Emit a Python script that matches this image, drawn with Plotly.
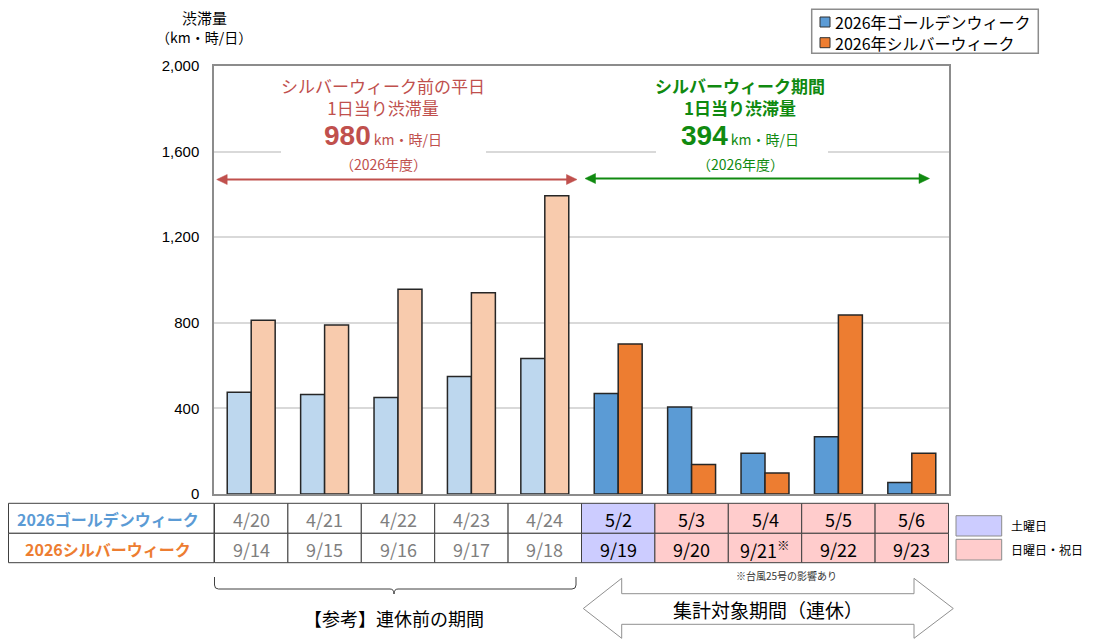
import plotly.graph_objects as go

# data
gw_dates = ["4/20", "4/21", "4/22", "4/23", "4/24", "5/2", "5/3", "5/4", "5/5", "5/6"]
sw_dates = ["9/14", "9/15", "9/16", "9/17", "9/18", "9/19", "9/20", "9/21<sup>※</sup>", "9/22", "9/23"]
day_types = ["平日"] * 5 + ["土曜日"] + ["日曜日・祝日"] * 4
gw_values = [476, 465, 451, 549, 633, 470, 406, 191, 267, 54]
sw_values = [812, 790, 957, 941, 1394, 701, 138, 98, 837, 190]
y_ticks = [0, 400, 800, 1200, 1600, 2000]

CJK = "Noto Sans CJK JP"
NUM = "Liberation Sans"
RED = "#C0504D"
GREEN = "#108A10"

# the page body has an 8px margin, so the figure is drawn 8px in
OFF = 8
W, H = 1095 - OFF, 640 - OFF
# plot area, in page pixels
L, T, PW, PH = 214, 66, 735, 428


def X(px):
    return (px - L) / PW


def Y(py):
    return (T + PH - py) / PH


weekday = [d == "平日" for d in day_types]
gw_colors = ["#BDD7EE" if w else "#5B9BD5" for w in weekday]
sw_colors = ["#F8CBAD" if w else "#ED7D31" for w in weekday]

fig = go.Figure()
fig.add_trace(go.Bar(x=gw_dates, y=gw_values, name="2026年ゴールデンウィーク",
                     marker=dict(color=gw_colors, line=dict(color="#262626", width=1.5)),
                     showlegend=False))
fig.add_trace(go.Bar(x=gw_dates, y=sw_values, name="2026年シルバーウィーク",
                     marker=dict(color=sw_colors, line=dict(color="#262626", width=1.5)),
                     showlegend=False))

shapes = []
ann = []

# white boxes that break the 1,600 gridline behind the callouts
for x0, x1 in [(281, 486), (656, 828)]:
    shapes.append(dict(type="rect", xref="paper", yref="paper", x0=X(x0), x1=X(x1),
                       y0=Y(172), y1=Y(74), fillcolor="white", line=dict(width=0), layer="above"))


def dbl_arrow(xa, xb, y, color):
    hl, hh = 10.5, 5
    shapes.append(dict(type="line", xref="paper", yref="paper", x0=X(xa + hl - 1), x1=X(xb - hl + 1),
                       y0=Y(y), y1=Y(y), line=dict(color=color, width=1.8)))
    for tip, base in [(xa, xa + hl), (xb, xb - hl)]:
        path = (f"M {X(tip)},{Y(y)} L {X(base)},{Y(y - hh)} L {X(base)},{Y(y + hh)} Z")
        shapes.append(dict(type="path", xref="paper", yref="paper", path=path,
                           fillcolor=color, line=dict(color=color, width=0.5)))


dbl_arrow(216.7, 577, 179.5, RED)
dbl_arrow(585, 929.5, 178.5, GREEN)


def callout(cx, lines, num, color, bold):
    b0, b1 = ("<b>", "</b>") if bold else ("", "")
    ann.append(dict(x=X(cx), y=Y(96.5), text=b0 + lines[0] + "<br>" + lines[1] + b1,
                    font=dict(size=17, color=color, family=CJK)))
    ann.append(dict(x=X(cx), y=Y(136), font=dict(size=14, color=color, family=CJK),
                    text=f"<span style='font-size:28px;font-family:{NUM}'><b>{num}</b></span> km・時/日"))
    ann.append(dict(x=X(cx), y=Y(164), text="（2026年度）", font=dict(size=14, color=color, family=CJK)))


callout(383, ["シルバーウィーク前の平日", "1日当り渋滞量"], 980, RED, False)
callout(740, ["シルバーウィーク期間", "1日当り渋滞量"], 394, GREEN, True)

# y axis title
ann.append(dict(x=X(204), y=Y(17), text="渋滞量", font=dict(size=15, color="#000", family=CJK)))
ann.append(dict(x=X(204), y=Y(37), text="（km・時/日）", font=dict(size=14, color="#000", family=CJK)))

# legend (top right)
shapes.append(dict(type="rect", xref="paper", yref="paper", x0=X(811.7), x1=X(1038.3),
                   y0=Y(53.3), y1=Y(9.3), line=dict(color="#8c8c8c", width=1.5), fillcolor="white"))
for yc, col in [(22, "#5B9BD5"), (42.7, "#ED7D31")]:
    shapes.append(dict(type="rect", xref="paper", yref="paper", x0=X(820), x1=X(830),
                       y0=Y(yc + 5), y1=Y(yc - 5), fillcolor=col, line=dict(color="#303030", width=1)))
ann.append(dict(x=X(833), y=Y(32.4), xanchor="left", align="left",
                text="2026年ゴールデンウィーク<br>2026年シルバーウィーク",
                font=dict(size=16, color="#000", family=CJK)))

# table under the chart
row_top, row_mid, row_bot = 503.3, 533.3, 562.7
cell_fill = {"平日": "white", "土曜日": "#CCCCFF", "日曜日・祝日": "#FFCCCC"}
for i, (g, s, d) in enumerate(zip(gw_dates, sw_dates, day_types)):
    for y0, y1 in [(row_mid, row_top), (row_bot, row_mid)]:
        shapes.append(dict(type="rect", xref="x", yref="paper", x0=i - 0.5, x1=i + 0.5,
                           y0=Y(y0), y1=Y(y1), fillcolor=cell_fill[d],
                           line=dict(color="#404040", width=1)))
    tc = "#7F7F7F" if d == "平日" else "#000000"
    ann.append(dict(x=i, xref="x", y=Y(518.5), text=g, font=dict(size=18, color=tc, family=CJK)))
    ann.append(dict(x=i, xref="x", y=Y(548.5), text=s, font=dict(size=18, color=tc, family=CJK)))

for y0, y1 in [(row_mid, row_top), (row_bot, row_mid)]:
    shapes.append(dict(type="rect", xref="paper", yref="paper", x0=X(OFF + 0.5), x1=X(L),
                       y0=Y(y0), y1=Y(y1), fillcolor="white", line=dict(color="#404040", width=1)))
ann.append(dict(x=X(108), y=Y(518.5), text="<b>2026ゴールデンウィーク</b>",
                font=dict(size=16, color="#5B9BD5", family=CJK)))
ann.append(dict(x=X(108), y=Y(548.5), text="<b>2026シルバーウィーク</b>",
                font=dict(size=16, color="#ED7D31", family=CJK)))

# day-type key
for (y0, y1), label in [((536, 515.7), "土曜日"), ((560, 539.3), "日曜日・祝日")]:
    shapes.append(dict(type="rect", xref="paper", yref="paper", x0=X(956), x1=X(1001.7),
                       y0=Y(y0), y1=Y(y1), fillcolor=cell_fill[label],
                       line=dict(color="#8c8c8c", width=1)))
    ann.append(dict(x=X(1009), y=Y((y0 + y1) / 2), xanchor="left", text=label,
                    font=dict(size=12, color="#000", family=CJK)))

ann.append(dict(x=X(786), y=Y(575), text="※台風25号の影響あり", font=dict(size=10, color="#333", family=CJK)))

# brace under the weekday columns
bx0, bx1, bc = 214.5, 576, 394
by = 589
brace = (f"M {X(bx0)},{Y(577)} L {X(bx0)},{Y(by - 4)} Q {X(bx0)},{Y(by)} {X(bx0 + 4)},{Y(by)} "
         f"L {X(bc - 4)},{Y(by)} Q {X(bc)},{Y(by)} {X(bc)},{Y(by + 5)} "
         f"Q {X(bc)},{Y(by)} {X(bc + 4)},{Y(by)} L {X(bx1 - 4)},{Y(by)} "
         f"Q {X(bx1)},{Y(by)} {X(bx1)},{Y(by - 4)} L {X(bx1)},{Y(577)}")
shapes.append(dict(type="path", xref="paper", yref="paper", path=brace,
                   line=dict(color="#404040", width=1)))
ann.append(dict(x=X(394), y=Y(618), text="【参考】連休前の期間", font=dict(size=18, color="#000", family=CJK)))

# big hollow double arrow for the holiday period
pts = [(583.3, 608.5), (621.7, 578.3), (621.7, 593.7), (914, 593.7), (914, 578.3),
       (953.3, 608.5), (914, 638.3), (914, 624.3), (621.7, 624.3), (621.7, 638.3)]
arrow = "M " + " L ".join(f"{X(a)},{Y(b)}" for a, b in pts) + " Z"
shapes.append(dict(type="path", xref="paper", yref="paper", path=arrow,
                   fillcolor="white", line=dict(color="#909090", width=1)))
ann.append(dict(x=X(768), y=Y(609.5), text="集計対象期間（連休）", font=dict(size=19, color="#000", family=CJK)))

for a in ann:
    a.setdefault("xref", "paper")
    a.setdefault("yref", "paper")
    a.setdefault("showarrow", False)
    a.setdefault("xanchor", "center")
    a.setdefault("yanchor", "middle")

fig.update_layout(
    width=W, height=H,
    margin=dict(l=L - OFF, r=W - (L - OFF) - PW, t=T - OFF, b=H - (T - OFF) - PH, pad=0),
    paper_bgcolor="white", plot_bgcolor="white",
    barmode="group", bargap=0.347, bargroupgap=0,
    shapes=shapes, annotations=ann,
    showlegend=False,
    xaxis=dict(showticklabels=False, showgrid=False, showline=True, linecolor="#8c8c8c",
               linewidth=1.5, mirror=True, ticks="", zeroline=False),
    yaxis=dict(range=[0, 2000], tickvals=y_ticks, tickformat=",", showgrid=True,
               gridcolor="#D9D9D9", gridwidth=1.5, showline=True, linecolor="#8c8c8c",
               linewidth=1.5, mirror=True, ticks="", zeroline=False, ticklabelstandoff=10,
               tickfont=dict(family=NUM, size=15, color="#000")),
)

fig.write_html("out.html")
